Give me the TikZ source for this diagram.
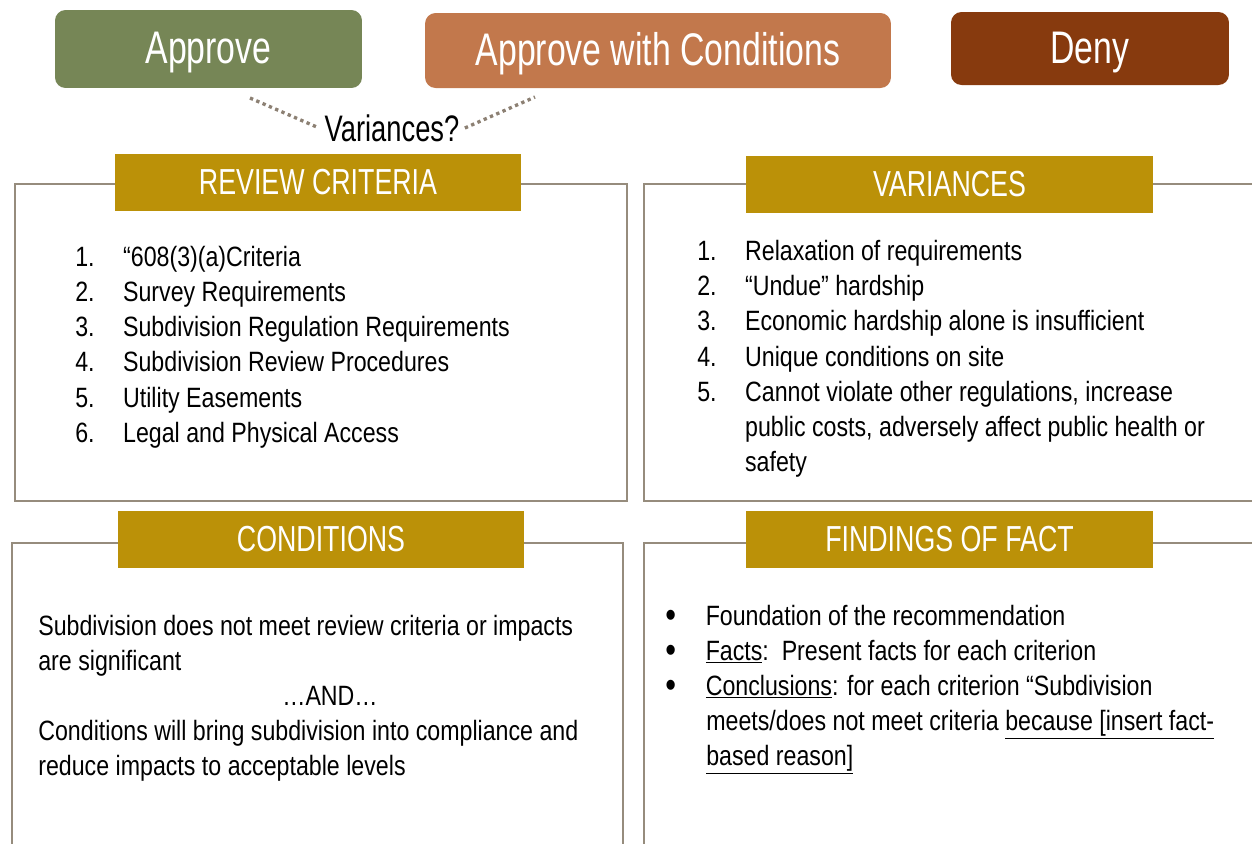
\documentclass[tikz,border=0pt]{standalone}
\usepackage{fontspec}
\setmainfont{Liberation Sans}[FakeStretch=0.83]
\newfontfamily\headfont{Liberation Sans}[FakeStretch=0.74]

\definecolor{approvegreen}{RGB}{118,134,86}
\definecolor{condorange}{RGB}{194,120,76}
\definecolor{denybrown}{RGB}{135,58,14}
\definecolor{headgold}{RGB}{187,145,8}
\definecolor{framegray}{RGB}{150,140,125}
\definecolor{dotgray}{RGB}{140,128,115}

\newcommand{\num}[1]{\makebox[27.2pt][l]{#1}}
\newcommand{\bul}{\makebox[23pt][l]{\raisebox{-1.2pt}{\fontsize{21}{21}\selectfont •}}}
\newcommand{\uln}[1]{$\underline{\hbox{#1}}$}

\begin{document}
\begin{tikzpicture}[x=0.02cm,y=-0.02cm,
  top btn/.style={rounded corners=6pt,text=white,inner sep=0pt,text height=18.7pt,text depth=2pt,font=\headfont\fontsize{26}{30}\selectfont},
  head box/.style={fill=headgold,text=white,inner sep=0pt,minimum width=8.13cm,minimum height=1.14cm,font=\headfont\fontsize{20.6}{24}\selectfont},
  frame/.style={draw=framegray,line width=0.9pt},
  item/.style={anchor=base west,inner sep=0pt,font=\fontsize{15.9}{19}\selectfont},
  dot line/.style={draw=dotgray,line width=1.9pt,dash pattern=on 1.9pt off 2pt}]
  \useasboundingbox (0,0) rectangle (1252,843);
  \clip (0,0) rectangle (1252,843);

  % decisions
  \node[top btn,fill=approvegreen,minimum width=6.14cm,minimum height=1.56cm] (approve) at (208.5,49) {Approve};
  \node[top btn,fill=condorange,minimum width=9.32cm,minimum height=1.5cm] (approvecond) at (658,50.5) {Approve with Conditions};
  \node[top btn,fill=denybrown,minimum width=5.56cm,minimum height=1.46cm] (deny) at (1090,48.5) {Deny};

  \node[inner sep=3pt,font=\headfont\fontsize{21}{25}\selectfont] (var) at (392,128) {Variances?};
  \coordinate (varl) at (250,98);
  \coordinate (varr) at (535,97);
  \draw[dot line] (varl) -- (var.west);
  \draw[dot line] (var.east) -- (varr);

  % frames
  \draw[frame] (15,184) rectangle (627,501);
  \draw[frame] (644,184) rectangle (1262,501);
  \draw[frame] (12,543) rectangle (623,853);
  \draw[frame] (644,543) rectangle (1262,853);

  \node[head box] (review) at (318,182.5) {REVIEW CRITERIA};
  \node[head box] (variances) at (949.5,184.5) {VARIANCES};
  \node[head box] (conditions) at (321,539.5) {CONDITIONS};
  \node[head box] (findings) at (949.5,539.5) {FINDINGS OF FACT};

  % review criteria
  \node[item] (rc1) at (75,266) {\num{1.}“608(3)(a)Criteria};
  \node[item] (rc2) at (75,301) {\num{2.}Survey Requirements};
  \node[item] (rc3) at (75,336) {\num{3.}Subdivision Regulation Requirements};
  \node[item] (rc4) at (75,371) {\num{4.}Subdivision Review Procedures};
  \node[item] (rc5) at (75,407) {\num{5.}Utility Easements};
  \node[item] (rc6) at (75,442) {\num{6.}Legal and Physical Access};

  % variances
  \node[item] (va1) at (697,260) {\num{1.}Relaxation of requirements};
  \node[item] (va2) at (697,295) {\num{2.}“Undue” hardship};
  \node[item] (va3) at (697,330) {\num{3.}Economic hardship alone is insufficient};
  \node[item] (va4) at (697,366) {\num{4.}Unique conditions on site};
  \node[item] (va5) at (697,401) {\num{5.}Cannot violate other regulations, increase};
  \node[item] (va5b) at (697,436) {\num{}public costs, adversely affect public health or};
  \node[item] (va5c) at (697,471) {\num{}safety};

  % conditions
  \node[item] (co1) at (38,635) {Subdivision does not meet review criteria or impacts};
  \node[item] (co2) at (38,670) {are significant};
  \node[item,anchor=base] (coand) at (330,705) {…AND…};
  \node[item] (co3) at (38,740) {Conditions will bring subdivision into compliance and};
  \node[item] (co4) at (38,775) {reduce impacts to acceptable levels};

  % findings of fact
  \node[item] (ff1) at (665,625) {\bul Foundation of the recommendation};
  \node[item] (ff2) at (665,660) {\bul\uln{Facts}:\ \ Present facts for each criterion};
  \node[item] (ff3) at (665,695) {\bul\uln{Conclusions}: for each criterion “Subdivision};
  \node[item] (ff4) at (706,730) {meets/does not meet criteria \uln{because [insert fact-}};
  \node[item] (ff5) at (706,765) {\uln{based reason]}};
\end{tikzpicture}
\end{document}
